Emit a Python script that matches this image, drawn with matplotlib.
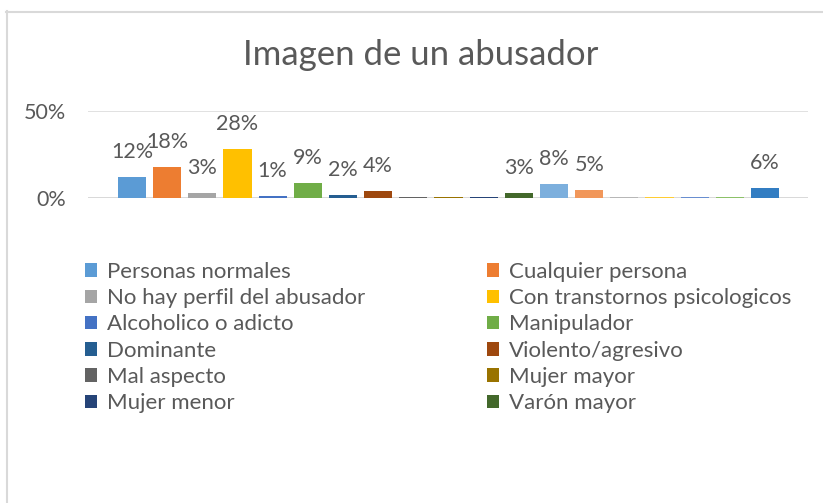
import matplotlib.pyplot as plt
from matplotlib.lines import Line2D

plt.rcParams["font.family"] = ["Lato", "DejaVu Sans"]

# categories, in the order Excel drew them
categories = [
    "Personas normales", "Cualquier persona", "No hay perfil del abusador",
    "Con transtornos psicologicos", "Alcoholico o adicto", "Manipulador",
    "Dominante", "Violento/agresivo", "Mal aspecto", "Mujer mayor",
    "Mujer menor", "Varón mayor", "Serie 13", "Serie 14", "Serie 15",
    "Serie 16", "Serie 17", "Serie 18", "Serie 19",
]
values = [0.12, 0.18, 0.03, 0.28, 0.012, 0.09, 0.02, 0.04, 0.006, 0.006,
          0.006, 0.03, 0.08, 0.05, 0.006, 0.006, 0.006, 0.006, 0.06]
colors = [
    "#5B9BD5", "#ED7D31", "#A5A5A5", "#FFC000", "#4472C4", "#70AD47",
    "#255E91", "#9E480E", "#636363", "#997300", "#264478", "#43682B",
    "#7CAFDD", "#F1975A", "#B7B7B7", "#FFCD33", "#698ED0", "#8CC168",
    "#327DC2",
]
n_legend = 12

TXT = "#595959"
GRID = "#D9D9D9"
W, H = 823, 503

fig = plt.figure(figsize=(W / 100, H / 100), dpi=100)
ax = fig.add_axes([88 / W, 1 - 198.3 / H, 720 / W, 87.6 / H])

bars = []
for i, (v, c) in enumerate(zip(values, colors)):
    b = ax.bar(i, v, width=0.8, color=c, zorder=3)
    bars.append(b[0])
    if v >= 0.01:
        ax.annotate(f"{v:.0%}", (i, v), xytext=(0, 18), textcoords="offset points",
                    ha="center", va="center", fontsize=15.5, color=TXT,
                    annotation_clip=False)

ax.set_xlim(-1.25, 19.22)
ax.set_ylim(0, 0.5)
ax.set_yticks([0, 0.5])
ax.set_yticklabels(["0%", "50%"], fontsize=15.5, color=TXT)
ax.set_xticks([])
ax.tick_params(axis="y", length=0, pad=16)
ax.grid(axis="y", color=GRID, linewidth=1.1, zorder=0)
for s in ax.spines.values():
    s.set_visible(False)
ax.axhline(0, color=GRID, linewidth=1.3, zorder=2)

fig.text(421 / W, 1 - 55 / H, "Imagen de un abusador", ha="center", va="center",
         fontsize=25, color=TXT)

# legend: Excel fills row-wise, matplotlib column-wise
order = list(range(0, n_legend, 2)) + list(range(1, n_legend, 2))
leg = fig.legend([bars[k] for k in order], [categories[k] for k in order],
                 ncol=2, loc="upper left", bbox_to_anchor=(85 / W, 1 - 262 / H),
                 frameon=False, fontsize=16, labelcolor=TXT,
                 handlelength=0.55, handleheight=0.55, handletextpad=0.45,
                 labelspacing=0.28, columnspacing=5.45, borderpad=0,
                 borderaxespad=0)

# chart border (top and left edges visible in the crop)
fig.add_artist(Line2D([6 / W, 1], [1 - 11.5 / H] * 2, color=GRID, linewidth=1.5,
                      transform=fig.transFigure))
fig.add_artist(Line2D([7 / W] * 2, [1 - 11 / H, 0], color=GRID, linewidth=1.5,
                      transform=fig.transFigure))

fig.savefig("out.png", dpi=100)
